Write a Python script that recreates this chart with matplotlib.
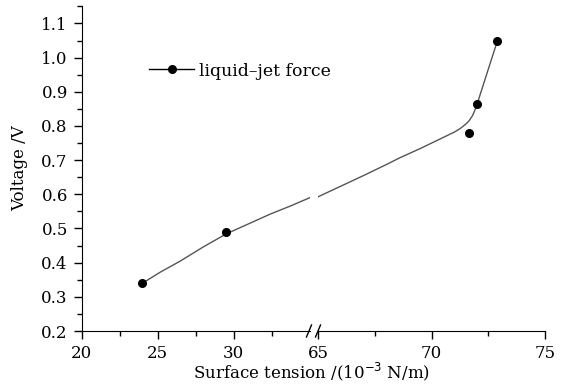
import matplotlib
matplotlib.use('Agg')
import matplotlib.pyplot as plt
from matplotlib.lines import Line2D
from matplotlib.ticker import MultipleLocator, FormatStrFormatter

plt.rcParams['font.family'] = 'DejaVu Serif'
plt.rcParams['font.size'] = 12

# measured points
tension = [24.0, 29.5, 71.65, 72.0, 72.9]
voltage = [0.34, 0.49, 0.78, 0.863, 1.049]

# smooth guide line (left and right of the axis break)
curve_left_x = [24.0, 25.2, 26.5, 28.0, 29.5, 31.0, 32.4, 33.8, 35.0]
curve_left_y = [0.340, 0.373, 0.405, 0.446, 0.484, 0.514, 0.542, 0.567, 0.590]
curve_right_x = [65.0, 66.0, 67.0, 68.0, 68.6, 69.5, 70.0, 70.5, 71.0, 71.25, 71.5, 71.65, 71.8, 71.9, 72.0, 72.9]
curve_right_y = [0.593, 0.624, 0.655, 0.687, 0.707, 0.734, 0.750, 0.766, 0.782, 0.792, 0.805, 0.815, 0.830, 0.845, 0.863, 1.049]

fig = plt.figure(figsize=(5.68, 3.85), dpi=100)
W, H = 568.0, 385.0
bottom = 1 - 331 / H
height = (331 - 6) / H
ax1 = fig.add_axes([81.7 / W, bottom, (309.7 - 81.7) / W, height])
ax2 = fig.add_axes([318.3 / W, bottom, (545.0 - 318.3) / W, height])

line_col = '#555555'
ax1.plot(curve_left_x, curve_left_y, color=line_col, lw=1.0)
ax2.plot(curve_right_x, curve_right_y, color=line_col, lw=1.0)
for ax in (ax1, ax2):
    ax.plot(tension, voltage, 'o', color='black', ms=5.5, zorder=3)
    ax.set_ylim(0.2, 1.151)
    ax.spines['top'].set_visible(False)
    ax.spines['right'].set_visible(False)
    ax.tick_params(which='major', direction='out', length=6, width=1, pad=4)
    ax.tick_params(which='minor', direction='out', length=3.5, width=1)

ax1.set_xlim(20, 35)
ax1.set_xticks([20, 25, 30])
ax1.set_xticks([22.5, 27.5, 32.5], minor=True)
ax2.set_xlim(65, 75)
ax2.set_xticks([65, 70, 75])
ax2.set_xticks([67.5, 72.5], minor=True)

ax1.yaxis.set_major_locator(MultipleLocator(0.1))
ax1.yaxis.set_minor_locator(MultipleLocator(0.05))
ax1.yaxis.set_major_formatter(FormatStrFormatter('%.1f'))
ax2.spines['left'].set_visible(False)
ax2.set_yticks([])
ax2.patch.set_visible(False)

# break marks on the x axis
y0 = bottom
for xp in (309.0, 318.0):
    fig.add_artist(Line2D([(xp - 2.5) / W, (xp + 2.5) / W], [y0 - 6 / H, y0 + 6 / H],
                          color='black', lw=1.0))

fig.text(20 / W, 1 - 168 / H, 'Voltage /V', rotation=90, ha='center', va='center')
fig.text(312 / W, 1 - 372 / H, 'Surface tension /(10$^{-3}$ N/m)', ha='center', va='center')

proxy = Line2D([], [], color='black', lw=1.0, marker='o', ms=5.5)
ax1.legend([proxy], ['liquid\u2013jet force'], loc='center left', frameon=False,
           bbox_to_anchor=(0.295, 0.80), borderpad=0, borderaxespad=0,
           handlelength=2.6, handletextpad=0.3, fontsize=12.5)

fig.savefig('out.png', dpi=100)
